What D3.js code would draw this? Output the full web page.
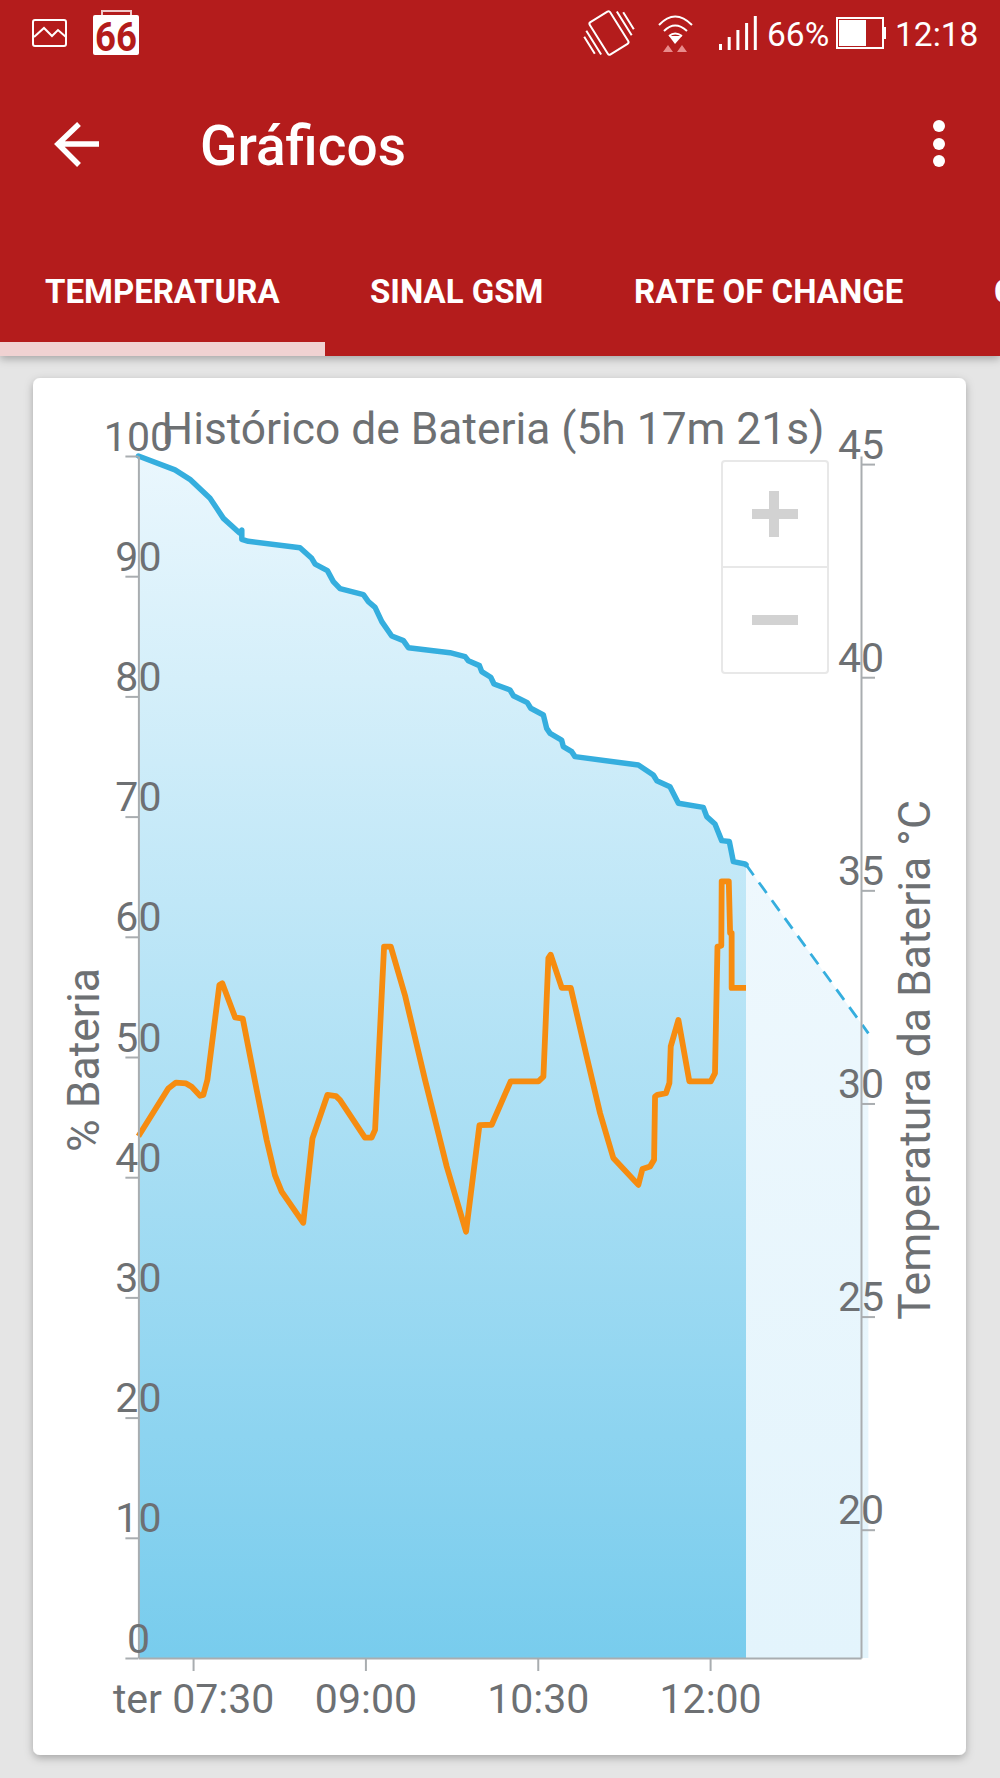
<!DOCTYPE html>
<html lang="pt">
<head>
  <meta charset="UTF-8">
  <title>Gráficos</title>
  <style>
  html, body { margin: 0; padding: 0; background: #e5e5e5; }
  svg { display: block; font-family: Roboto, sans-serif; }
  .axis text { font: 41px Roboto, sans-serif; fill: #6d7073; }
  .axis path, .axis line { stroke: #a9adb0; stroke-width: 2px; }
  .tab { font: 700 33px Roboto, sans-serif; fill: #fff; }
  </style>
</head>
<body>
<script src="https://d3js.org/d3.v7.min.js"></script>
<script>
// minutes after the start of the log (07:01:27)
var batteryMinutes = [0,19.1,26.9,37.4,40.9,44.4,52.7,54,54,57.4,84.4,90.5,92.3,98.7,101.8,105.3,117.5,120.1,123.6,127.1,132.3,138.4,141,162.7,170.6,172.3,178.1,179.3,184,185.7,194.1,195.8,203.1,204.9,211.5,213.2,215,221,221.9,226.3,228,261.1,268.9,270.7,277.6,282,295,296.8,301.1,304.6,308.6,310.7,316.8,317.3];
var batteryValues = [100,98.84,98.06,96.48,95.65,94.81,93.62,93.84,93.07,92.9,92.37,91.49,91.01,90.46,89.55,88.96,88.46,87.88,87.41,86.22,85.02,84.64,84.05,83.64,83.31,82.97,82.56,82.06,81.59,81.03,80.53,80.06,79.48,79.01,78.45,77.34,76.93,76.37,75.82,75.4,74.99,74.29,73.46,72.99,72.49,71.11,70.77,70,69.39,68,67.92,66.25,66.06,66];
var forecastMinutes = [317.3,381.2];
var forecastValues = [66,51.97];

var tempMinutes = [0,15.6,19.6,24.9,27.8,32.2,33.9,36,42.3,43.8,50.5,54.5,61.8,67,71.3,74.8,86.1,90.9,98.7,103.2,105.3,118.3,121.8,123.6,128.3,131.8,139.2,149.7,161,171.1,178.1,184.5,194.4,208.9,211.5,214.1,215.3,221.1,225.8,234.1,241.1,248,261.1,263.2,267.2,269.3,269.8,271,275.5,277.3,278,282,287.7,298.9,301.1,302.4,304.4,304.6,308.3,309,309.8,309.8,317.3];
var tempValues = [29.23,30.35,30.49,30.47,30.39,30.18,30.2,30.55,32.78,32.82,32.02,31.99,30.31,29.14,28.32,27.93,27.2,29.18,30.2,30.17,30.08,29.2,29.2,29.38,33.68,33.68,32.54,30.55,28.52,26.99,29.49,29.5,30.52,30.52,30.63,33.41,33.49,32.71,32.71,31.1,29.77,28.72,28.09,28.46,28.52,28.68,30.16,30.2,30.24,30.48,31.34,31.96,30.52,30.52,30.71,33.68,33.7,35.21,35.21,34,34,32.71,32.71];

var xTickMinutes = [28.55,118.55,208.55,298.55];
var xTickLabels = ["ter 07:30","09:00","10:30","12:00"];
var batteryTicks = [0,10,20,30,40,50,60,70,80,90,100];
var tempTicks = [20,25,30,35,40,45];
var tabLabels = ["TEMPERATURA","SINAL GSM","RATE OF CHANGE","C"];

var width = 1000, height = 1778;
var left = 138.4, right = 861, top_ = 456, bottom = 1658;

var svg = d3.select("body").append("svg").attr("width", width).attr("height", height);
var defs = svg.append("defs");

function gradient(id, c0, c1) {
  var g = defs.append("linearGradient").attr("id", id)
    .attr("gradientUnits", "userSpaceOnUse")
    .attr("x1", 0).attr("x2", 0).attr("y1", top_).attr("y2", bottom);
  g.append("stop").attr("offset", 0).attr("stop-color", c0);
  g.append("stop").attr("offset", 1).attr("stop-color", c1);
}
gradient("fillMain", "#eaf7fd", "#78cced");
gradient("fillForecast", "#f4fafe", "#e3f4fc");

var shadow = defs.append("filter").attr("id", "shadow")
  .attr("x", "-5%").attr("y", "-5%").attr("width", "110%").attr("height", "110%");
shadow.append("feDropShadow").attr("dx", 0).attr("dy", 3).attr("stdDeviation", 4)
  .attr("flood-color", "#000").attr("flood-opacity", 0.28);

// page: card first so the header shadow falls over the background
svg.append("rect").attr("x", 33).attr("y", 378).attr("width", 933).attr("height", 1377)
  .attr("rx", 7).attr("fill", "#fff").attr("filter", "url(#shadow)");

// header
svg.append("rect").attr("width", width).attr("height", 356).attr("fill", "#b41c1a").attr("filter", "url(#shadow)");
svg.append("rect").attr("y", 342).attr("width", 325).attr("height", 14).attr("fill", "#f0d2d2");

svg.append("text").attr("x", 200).attr("y", 165).attr("fill", "#fff")
  .style("font", "500 55px Roboto, sans-serif").text("Gráficos");
svg.append("path").attr("d", "M99 144H58M79 124L58 144L79 165")
  .attr("fill", "none").attr("stroke", "#fff").attr("stroke-width", 5.5);
svg.selectAll(".dot").data([126, 144, 161]).enter().append("circle")
  .attr("cx", 939).attr("cy", function(d) { return d; }).attr("r", 6).attr("fill", "#fff");

var tabX = [45, 370, 634, 994];
svg.selectAll(".tab").data(tabLabels).enter().append("text").attr("class", "tab")
  .attr("x", function(d, i) { return tabX[i]; }).attr("y", 303).text(function(d) { return d; });

// status bar
var icons = svg.append("g").attr("fill", "none").attr("stroke", "#fff").attr("stroke-width", 2);
icons.append("rect").attr("x", 33).attr("y", 20).attr("width", 33).attr("height", 26).attr("rx", 2);
icons.append("path").attr("d", "M34 37L44 28L52 36L58 30L66 37");
svg.append("rect").attr("x", 93).attr("y", 15).attr("width", 46).attr("height", 40).attr("rx", 2).attr("fill", "#fff");
svg.append("path").attr("d", "M102 15V11H131V15").attr("fill", "none").attr("stroke", "#f0c9c9").attr("stroke-width", 2);
svg.append("text").attr("x", 116).attr("y", 51).attr("text-anchor", "middle").attr("fill", "#b41c1a")
  .style("font", "700 40px Roboto, sans-serif").attr("textLength", 42).attr("lengthAdjust", "spacingAndGlyphs").text("66");
icons.append("g").attr("transform", "rotate(-32 609 33)").call(function(g) {
  g.append("rect").attr("x", 597).attr("y", 14).attr("width", 24).attr("height", 38).attr("rx", 2);
  g.append("path").attr("d", "M591 19V47M586 23V43M627 19V47M632 23V43");
});
icons.append("path").attr("d", "M659 25Q675 8 692 25M664 31Q675 20 687 31M669 36Q675 31 682 36");
svg.append("path").attr("d", "M669 36H682L675 44Z").attr("fill", "#fff");
svg.append("path").attr("d", "M663 52L668 45L673 52ZM677 52L682 45L687 52Z").attr("fill", "#e88b8b");
svg.selectAll(".sig").data([6, 13, 20, 27, 34]).enter().append("rect")
  .attr("x", function(d, i) { return 719 + i * 8.7; }).attr("y", function(d) { return 50 - d; })
  .attr("width", 3).attr("height", function(d) { return d; }).attr("fill", "#fff");
svg.append("text").attr("x", 767).attr("y", 46).attr("fill", "#fff")
  .style("font", "33.5px Roboto, sans-serif").text("66%");
icons.append("rect").attr("x", 837).attr("y", 18).attr("width", 46).attr("height", 30);
svg.append("rect").attr("x", 839).attr("y", 20).attr("width", 27).attr("height", 26).attr("fill", "#fff");
svg.append("rect").attr("x", 884).attr("y", 27).attr("width", 2).attr("height", 12).attr("fill", "#fff");
svg.append("text").attr("x", 895).attr("y", 46).attr("fill", "#fff")
  .style("font", "33.5px Roboto, sans-serif").text("12:18");

// scales
var start = new Date(2017, 0, 3, 7, 1, 27);
function toDate(m) { return new Date(start.getTime() + m * 60000); }

var xScale = d3.scaleTime().domain([toDate(0), toDate(377.35)]).range([left, right]);
var yBattery = d3.scaleLinear().domain([0, 100]).range([bottom, top_]);
var yTemp = d3.scaleLinear().domain([16.99, 45.19]).range([bottom, top_]);

var batteryData = batteryMinutes.map(function(m, i) { return { t: toDate(m), v: batteryValues[i] }; });
var forecastData = forecastMinutes.map(function(m, i) { return { t: toDate(m), v: forecastValues[i] }; });
var tempData = tempMinutes.map(function(m, i) { return { t: toDate(m), v: tempValues[i] }; });

function areaOf(data, fill) {
  svg.append("path").datum(data).attr("fill", fill)
    .attr("d", d3.area()
      .x(function(d) { return xScale(d.t); })
      .y0(bottom)
      .y1(function(d) { return yBattery(d.v); }));
}
areaOf(forecastData, "url(#fillForecast)");
areaOf(batteryData, "url(#fillMain)");

var lineBattery = d3.line()
  .x(function(d) { return xScale(d.t); })
  .y(function(d) { return yBattery(d.v); });
var lineTemp = d3.line()
  .x(function(d) { return xScale(d.t); })
  .y(function(d) { return yTemp(d.v); });

svg.append("path").datum(forecastData).attr("fill", "none")
  .attr("stroke", "#35aede").attr("stroke-width", 2.8).attr("stroke-dasharray", "13 9")
  .attr("d", lineBattery);
svg.append("path").datum(batteryData).attr("fill", "none")
  .attr("stroke", "#35aede").attr("stroke-width", 5.5)
  .attr("stroke-linejoin", "round").attr("stroke-linecap", "round")
  .attr("d", lineBattery);
svg.append("path").datum(tempData).attr("fill", "none")
  .attr("stroke", "#f68c10").attr("stroke-width", 5.8)
  .attr("stroke-linejoin", "round")
  .attr("d", lineTemp);

// axes
var axisX = d3.axisBottom(xScale)
  .tickValues(xTickMinutes.map(toDate))
  .tickFormat(function(d, i) { return xTickLabels[i]; })
  .tickSize(13).tickSizeOuter(0);
var gx = svg.append("g").attr("class", "axis")
  .attr("transform", "translate(0," + bottom + ")").call(axisX);
gx.selectAll("text").attr("y", 55).attr("dy", 0);

var axisL = d3.axisLeft(yBattery).tickValues(batteryTicks).tickSize(13).tickSizeOuter(0);
var gl = svg.append("g").attr("class", "axis")
  .attr("transform", "translate(" + left + ",0)").call(axisL);
gl.selectAll("text").attr("x", 0).attr("y", -6).attr("dy", 0).attr("text-anchor", "middle");

var axisR = d3.axisRight(yTemp).tickValues(tempTicks).tickSize(14).tickSizeOuter(0);
var gr = svg.append("g").attr("class", "axis")
  .attr("transform", "translate(" + right + ",0)").call(axisR);
gr.selectAll("text").attr("x", 0).attr("y", -6).attr("dy", 0).attr("text-anchor", "middle");

// titles
svg.append("text").attr("x", 493).attr("y", 444).attr("text-anchor", "middle")
  .attr("fill", "#6d7073").style("font", "44.3px Roboto, sans-serif")
  .text("Histórico de Bateria (5h 17m 21s)");
svg.append("text").attr("transform", "translate(99,1060) rotate(-90)").attr("text-anchor", "middle")
  .attr("fill", "#6d7073").style("font", "44.5px Roboto, sans-serif").text("% Bateria");
svg.append("text").attr("transform", "translate(930,1060) rotate(-90)").attr("text-anchor", "middle")
  .attr("fill", "#6d7073").style("font", "44.5px Roboto, sans-serif").text("Temperatura da Bateria °C");

// zoom buttons
svg.append("rect").attr("x", 722).attr("y", 461).attr("width", 106).attr("height", 212).attr("rx", 3)
  .attr("fill", "#fff").attr("stroke", "#e8e8e8").attr("stroke-width", 2);
svg.append("path").attr("d", "M722 567H828").attr("stroke", "#e8e8e8").attr("stroke-width", 2);
svg.append("path").attr("d", "M752 514H798M774 491V537M752 620H798")
  .attr("stroke", "#d2d2d2").attr("stroke-width", 10).attr("fill", "none");
</script>
</body>
</html>
